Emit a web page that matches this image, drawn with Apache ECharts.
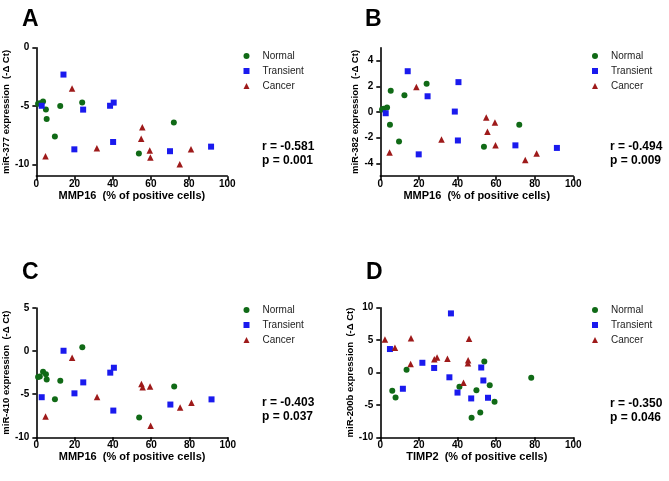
<!DOCTYPE html>
<html>
<head>
<meta charset="utf-8">
<script src="https://cdn.jsdelivr.net/npm/echarts@6/dist/echarts.min.js"></script>
<style>html,body{margin:0;padding:0;background:#fff;}#c{width:669px;height:481px;}</style>
</head>
<body>
<div id="c"></div>
<script>
// ---- Data ----
var groupNames = ['Normal', 'Transient', 'Cancer'];
var panelLetters = ['A', 'B', 'C', 'D'];
var xTitles = ['MMP16  (% of positive cells)', 'MMP16  (% of positive cells)', 'MMP16  (% of positive cells)', 'TIMP2  (% of positive cells)'];
var yTitles = ['miR-377 expression  (-\u0394 Ct)', 'miR-382 expression  (-\u0394 Ct)', 'miR-410 expression  (-\u0394 Ct)', 'miR-200b expression  (-\u0394 Ct)'];
var rTexts = ['r = -0.581', 'r = -0.494', 'r = -0.403', 'r = -0.350'];
var pTexts = ['p = 0.001', 'p = 0.009', 'p = 0.037', 'p = 0.046'];
var xTicks = [0, 20, 40, 60, 80, 100];
var yTicksA = [-10, -5, 0];
var yTicksB = [-4, -2, 0, 2, 4];
var yTicksC = [-10, -5, 0, 5];
var yTicksD = [-10, -5, 0, 5, 10];

// MMP16 (% positive cells) per group, shared by panels A, B, C
var normalMMP16 = [0.9, 1.8, 3.5, 5.0, 5.4, 9.7, 12.5, 24.0, 53.7, 72.0];
var transientMMP16 = [2.8, 14.2, 19.9, 24.5, 38.6, 40.2, 40.5, 70.0, 91.5];
var cancerMMP16 = [4.8, 18.7, 31.7, 54.9, 55.5, 59.4, 59.7, 75.1, 81.0];

// Panel A: miR-377
var normalMiR377 = [-4.8, -4.75, -4.6, -5.3, -6.1, -7.6, -5.0, -4.7, -9.05, -6.4];
var transientMiR377 = [-4.97, -2.3, -8.7, -5.3, -4.97, -8.07, -4.7, -8.86, -8.47];
var cancerMiR377 = [-9.3, -3.5, -8.6, -7.8, -6.8, -8.8, -9.4, -9.97, -8.7];

// Panel B: miR-382
var normalMiR382 = [0.2, 0.25, 0.34, -1.0, 1.65, -2.3, 1.3, 2.2, -2.7, -1.0];
var transientMiR382 = [-0.1, 3.17, -3.3, 1.22, 0.03, -2.22, 2.32, -2.6, -2.8];
var cancerMiR382 = [-3.15, 1.94, -2.14, -0.44, -1.55, -0.83, -2.6, -3.74, -3.23];

// Panel C: miR-410
var normalMiR410 = [-3.0, -2.95, -2.4, -2.7, -3.3, -5.6, -3.45, 0.45, -7.7, -4.1];
var transientMiR410 = [-5.35, 0.04, -4.9, -3.63, -2.5, -6.9, -1.93, -6.2, -5.6];
var cancerMiR410 = [-7.6, -0.77, -5.33, -3.83, -4.2, -4.1, -8.66, -6.53, -6.0];

// Panel D: TIMP2 vs miR-200b
var normalTIMP2 = [6.2, 7.9, 13.6, 41.0, 47.3, 49.8, 51.8, 53.9, 56.7, 59.2, 78.2];
var normalMiR200b = [-2.8, -3.85, 0.41, -2.2, -7.0, -2.73, -6.17, 1.69, -1.95, -4.52, -0.82];
var transientTIMP2 = [5.0, 11.7, 21.8, 27.9, 35.8, 36.6, 40.0, 47.1, 52.3, 53.4, 55.8];
var transientMiR200b = [3.62, -2.51, 1.5, 0.7, -0.74, 9.12, -3.1, -4.0, 0.77, -1.23, -3.9];
var cancerTIMP2 = [2.4, 7.6, 15.7, 15.9, 28.0, 29.4, 34.8, 43.1, 45.4, 45.5, 46.0];
var cancerMiR200b = [5.1, 3.83, 1.3, 5.28, 2.06, 2.33, 2.13, -1.57, 1.44, 1.9, 5.19];

// ---- Build ----
function pairs(xs, ys) { return xs.map(function (x, i) { return [x, ys[i]]; }); }
var panelData = [
  [pairs(normalMMP16, normalMiR377), pairs(transientMMP16, transientMiR377), pairs(cancerMMP16, cancerMiR377)],
  [pairs(normalMMP16, normalMiR382), pairs(transientMMP16, transientMiR382), pairs(cancerMMP16, cancerMiR382)],
  [pairs(normalMMP16, normalMiR410), pairs(transientMMP16, transientMiR410), pairs(cancerMMP16, cancerMiR410)],
  [pairs(normalTIMP2, normalMiR200b), pairs(transientTIMP2, transientMiR200b), pairs(cancerTIMP2, cancerMiR200b)]
];
var yRanges = [[-11, 0], [-5, 5], [-10, 5], [-10, 10]];
var yTickSets = [yTicksA, yTicksB, yTicksC, yTicksD];

var FONT = '"Liberation Sans", Arial, sans-serif';
var colors = ['#106a16', '#1a1aee', '#9e1a1a'];
var symbols = ['circle', 'rect', 'triangle'];
var sizes = [6, 6, 6.5];

var grids = [
  {left: 34.3, top: 47.7, width: 193, height: 128.5},
  {left: 380.3, top: 47.7, width: 193, height: 128.5},
  {left: 34.3, top: 308, width: 193.5, height: 129.3},
  {left: 380.3, top: 307.7, width: 193, height: 129.6}
];
var legendPos = [[243.5, 50], [592, 50], [243.5, 304], [592, 304]];
var statPos = [[262, 140], [610, 140], [262, 396], [610, 397]];
var letterPos = [[22, 8], [365, 8], [22, 261], [366, 261]];

var axisCommon = {
  axisLine: {show: true, onZero: false, lineStyle: {color: '#000', width: 1.6}},
  splitLine: {show: false}
};

var xAxes = [], yAxes = [], series = [], legends = [], graphics = [];
for (var p = 0; p < 4; p++) {
  xAxes.push(Object.assign({}, axisCommon, {
    type: 'value', gridIndex: p, min: 0, max: 100, interval: 20,
    name: xTitles[p], nameLocation: 'middle', nameGap: 9,
    nameTextStyle: {color: '#000', fontWeight: 'bold', fontFamily: FONT, fontSize: 11},
    axisLabel: {color: '#000', fontWeight: 'bold', fontFamily: FONT, fontSize: 10, margin: 3,
      customValues: xTicks},
    axisTick: {show: true, length: 4, lineStyle: {color: '#000', width: 1.6}, customValues: xTicks}
  }));
  yAxes.push(Object.assign({}, axisCommon, {
    type: 'value', gridIndex: p, min: yRanges[p][0], max: yRanges[p][1],
    name: yTitles[p], nameLocation: 'middle', nameGap: 20,
    nameTextStyle: {color: '#000', fontWeight: 'bold', fontFamily: FONT, fontSize: 9.5},
    axisLabel: {color: '#000', fontWeight: 'bold', fontFamily: FONT, fontSize: 10, margin: 7,
      customValues: yTickSets[p]},
    axisTick: {show: true, length: 4, lineStyle: {color: '#000', width: 1.6}, customValues: yTickSets[p]}
  }));
  for (var g = 0; g < 3; g++) {
    series.push({
      type: 'scatter', name: groupNames[g], xAxisIndex: p, yAxisIndex: p,
      symbol: symbols[g], symbolSize: sizes[g],
      itemStyle: {color: colors[g], opacity: 1},
      data: panelData[p][g]
    });
  }
  legends.push({
    data: groupNames, orient: 'vertical', left: legendPos[p][0], top: legendPos[p][1],
    itemWidth: 6, itemHeight: 6, itemGap: 3, padding: 0,
    textStyle: {color: '#222', fontFamily: FONT, fontSize: 10, lineHeight: 12, padding: [0, 0, 0, 8]}
  });
  graphics.push({
    type: 'text', left: letterPos[p][0], top: letterPos[p][1],
    style: {text: panelLetters[p], font: 'bold 23px ' + FONT, fill: '#000'}
  });
  graphics.push({
    type: 'text', left: statPos[p][0], top: statPos[p][1],
    style: {text: rTexts[p] + '\n' + pTexts[p], font: 'bold 12px ' + FONT, fill: '#000', lineHeight: 13.5}
  });
}

var chart = echarts.init(document.getElementById('c'), null, {renderer: 'canvas'});
chart.setOption({
  backgroundColor: '#fff',
  animation: false,
  grid: grids,
  xAxis: xAxes,
  yAxis: yAxes,
  legend: legends,
  series: series,
  graphic: graphics
});
</script>
</body>
</html>
